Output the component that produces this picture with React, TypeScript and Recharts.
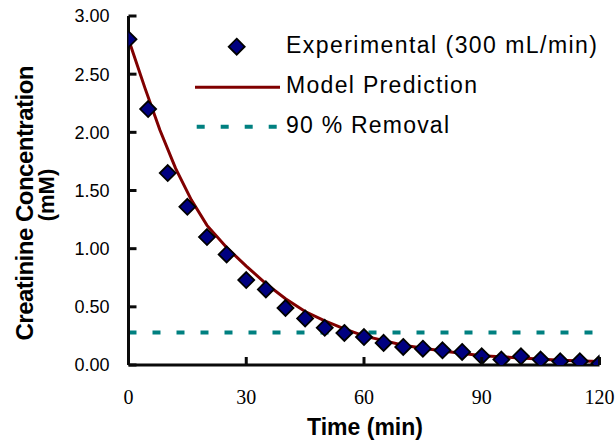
import React from 'react';
import { ComposedChart, Line, Scatter, XAxis, YAxis } from 'recharts';

const expTime = [0, 5, 10, 15, 20, 25, 30, 35, 40, 45, 50, 55, 60, 65, 70, 75, 80, 85, 90, 95, 100, 105, 110, 115, 120];
const expConc = [2.8, 2.2, 1.65, 1.36, 1.1, 0.95, 0.73, 0.65, 0.49, 0.4, 0.32, 0.275, 0.24, 0.19, 0.155, 0.14, 0.126, 0.112, 0.075, 0.047, 0.075, 0.047, 0.032, 0.032, 0.012];

const modelTime = [0, 4.2, 8, 12, 16, 20, 25, 30, 35, 40, 45, 50, 55, 60, 70, 80, 90, 100, 110, 120];
const modelConc = [2.8, 2.38, 2.02, 1.69, 1.42, 1.2, 1.01, 0.85, 0.7, 0.57, 0.46, 0.38, 0.31, 0.25, 0.17, 0.12, 0.08, 0.06, 0.04, 0.03];

const removalTime = [0, 120];
const removalConc = [0.28, 0.28];

const xTicks = [0, 30, 60, 90, 120];
const yTicks = [0, 0.5, 1, 1.5, 2, 2.5, 3];

const seriesNames = ['Experimental (300 mL/min)', 'Model Prediction', '90 % Removal'];
const xTitle = 'Time (min)';
const yTitle1 = 'Creatinine Concentration';
const yTitle2 = '(mM)';

const expData = expTime.map((t, i) => ({ t, c: expConc[i] }));
const modelData = modelTime.map((t, i) => ({ t, c: modelConc[i] }));
const removalData = removalTime.map((t, i) => ({ t, c: removalConc[i] }));

const SANS = 'Liberation Sans, Arial, sans-serif';
const SERIF = 'Liberation Serif, Times New Roman, serif';
const INK = '#000000';
const AXIS = '#0a0a0a';
const NAVY = '#000080';
const DARKRED = '#800000';
const TEAL = '#008080';

const diamondPath = (cx: number, cy: number, r: number) =>
  `M${cx},${cy - r}L${cx + r},${cy}L${cx},${cy + r}L${cx - r},${cy}Z`;

const Diamond = (props: any) => {
  const cx = Number(props.cx);
  const cy = Number(props.cy);
  if (!isFinite(cx) || !isFinite(cy)) return null;
  return <path d={diamondPath(cx, cy, 8)} fill={NAVY} stroke={INK} strokeWidth={1.8} />;
};

const YTick = (props: any) => {
  const x = Number(props.x);
  const y = Number(props.y);
  return (
    <g>
      <line x1={x} x2={x + 8} y1={y} y2={y} stroke={AXIS} strokeWidth={3} />
      <text x={x - 19} y={y} dy="0.36em" textAnchor="end" fontFamily={SANS} fontSize={18} fill={INK}>
        {Number(props.payload.value).toFixed(2)}
      </text>
    </g>
  );
};

const XTick = (props: any) => {
  const x = Number(props.x);
  const y = Number(props.y);
  const v = props.payload.value;
  return (
    <g>
      {v !== 0 && <line x1={x} x2={x} y1={y - 8} y2={y} stroke={AXIS} strokeWidth={3} />}
      <text x={x} y={y + 38.5} textAnchor="middle" fontFamily={SERIF} fontSize={20} fill={INK}>
        {v}
      </text>
    </g>
  );
};

const Overlay = () => (
  <g>
    <text transform="translate(33,203) rotate(-90)" textAnchor="middle" fontFamily={SANS} fontWeight="bold" fontSize={24} textLength={275} lengthAdjust="spacing" fill={INK}>
      {yTitle1}
    </text>
    <text transform="translate(54,195) rotate(-90)" textAnchor="middle" fontFamily={SANS} fontWeight="bold" fontSize={22} fill={INK}>
      {yTitle2}
    </text>
    <text x={365} y={435} textAnchor="middle" fontFamily={SANS} fontWeight="bold" fontSize={23} textLength={116} lengthAdjust="spacing" fill={INK}>
      {xTitle}
    </text>
    <path d={diamondPath(236.7, 46.7, 8)} fill={NAVY} stroke={INK} strokeWidth={1.8} />
    <text x={286} y={53.3} fontFamily={SANS} fontSize={23} textLength={311} lengthAdjust="spacing" fill={INK}>
      {seriesNames[0]}
    </text>
    <line x1={195} x2={280} y1={87.3} y2={87.3} stroke={DARKRED} strokeWidth={3} />
    <text x={286} y={92.7} fontFamily={SANS} fontSize={23} textLength={191} lengthAdjust="spacing" fill={INK}>
      {seriesNames[1]}
    </text>
    <line x1={196.7} x2={280} y1={126.7} y2={126.7} stroke={TEAL} strokeWidth={4} strokeDasharray="8 16" />
    <text x={286} y={132.7} fontFamily={SANS} fontSize={23} textLength={163} lengthAdjust="spacing" fill={INK}>
      {seriesNames[2]}
    </text>
  </g>
);

export default function App() {
  return (
    <div style={{ position: 'absolute', left: 0, top: 0, width: 615, height: 441, background: '#fff' }}>
      <ComposedChart width={615} height={441} margin={{ top: 16, right: 15.5, bottom: 0, left: 0 }}>
        <XAxis type="number" dataKey="t" domain={[0, 120]} ticks={xTicks} allowDataOverflow axisLine={{ stroke: AXIS, strokeWidth: 3 }} tickLine={false} tickSize={0} tickMargin={0} height={76} tick={<XTick />} />
        <YAxis type="number" dataKey="c" domain={[0, 3]} ticks={yTicks} allowDataOverflow axisLine={{ stroke: AXIS, strokeWidth: 3 }} tickLine={false} tickSize={0} tickMargin={0} width={128.5} tick={<YTick />} />
        <Line data={removalData} dataKey="c" stroke={TEAL} strokeWidth={4} strokeDasharray="8 16" dot={false} activeDot={false} isAnimationActive={false} />
        <Line data={modelData} dataKey="c" stroke={DARKRED} strokeWidth={3} dot={false} activeDot={false} isAnimationActive={false} />
        <Scatter data={expData} dataKey="c" shape={<Diamond />} isAnimationActive={false} />
        <Overlay />
      </ComposedChart>
    </div>
  );
}
